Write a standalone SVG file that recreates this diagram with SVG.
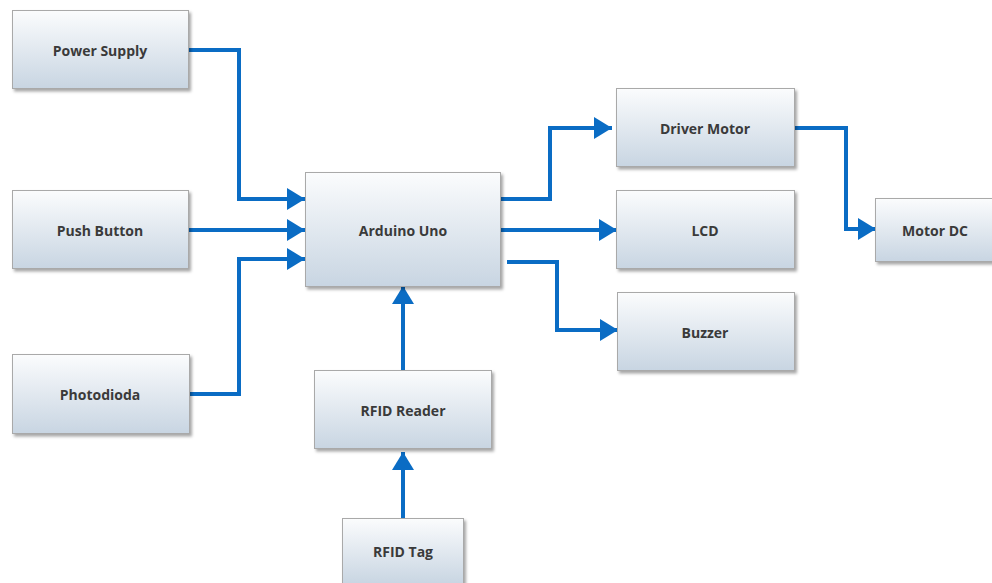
<svg xmlns="http://www.w3.org/2000/svg" width="992" height="583" viewBox="0 0 992 583">
<defs>
<linearGradient id="g" x1="0" y1="0" x2="0" y2="1">
<stop offset="0" stop-color="#fbfcfd"/>
<stop offset="1" stop-color="#c8d5e2"/>
</linearGradient>
<filter id="sh" x="-10%" y="-10%" width="125%" height="130%">
<feDropShadow dx="2" dy="2.5" stdDeviation="1.5" flood-color="#000" flood-opacity="0.35"/>
</filter>
<marker id="ah" markerUnits="userSpaceOnUse" markerWidth="20" markerHeight="22" refX="18" refY="11" orient="auto">
<path d="M0,0 L18,11 L0,22 Z" fill="#0a6cc4"/>
</marker>
<style>
.box{fill:url(#g);stroke:#a9a9a9;stroke-width:1;filter:url(#sh)}
.lbl{font-family:"Open Sans","Liberation Sans",sans-serif;font-weight:bold;font-size:14px;fill:#3a3a3a;text-anchor:middle;dominant-baseline:central}
.c{fill:none;stroke:#0a6cc4;stroke-width:4;marker-end:url(#ah)}
</style>
</defs>
<rect width="992" height="583" fill="#ffffff"/>
<g id="connectors">
<polyline class="c" points="189,50 239,50 239,199 305,199"/>
<polyline class="c" points="189,230 305,230"/>
<polyline class="c" points="190,394 239,394 239,259 305,259"/>
<polyline class="c" points="501,199 550,199 550,128 612,128"/>
<polyline class="c" points="501,230 617,230"/>
<polyline class="c" points="507,262 557,262 557,330 618,330"/>
<polyline class="c" points="795,128 846,128 846,229 876,229"/>
<polyline class="c" points="403,370 403,286"/>
<polyline class="c" points="403,518 403,452"/>
</g>
<g id="power-supply"><rect class="box" x="12.5" y="10.5" width="176" height="78"/><text class="lbl" x="100" y="50">Power Supply</text></g>
<g id="push-button"><rect class="box" x="12.5" y="190.5" width="176" height="78"/><text class="lbl" x="100" y="230">Push Button</text></g>
<g id="photodioda"><rect class="box" x="12.5" y="354.5" width="177" height="79"/><text class="lbl" x="100" y="394">Photodioda</text></g>
<g id="arduino-uno"><rect class="box" x="305.5" y="172.5" width="195" height="114"/><text class="lbl" x="403" y="230">Arduino Uno</text></g>
<g id="rfid-reader"><rect class="box" x="314.5" y="370.5" width="177" height="78"/><text class="lbl" x="403" y="410">RFID Reader</text></g>
<g id="rfid-tag"><rect class="box" x="342.5" y="518.5" width="121" height="66"/><text class="lbl" x="403" y="551">RFID Tag</text></g>
<g id="driver-motor"><rect class="box" x="616.5" y="88.5" width="178" height="78"/><text class="lbl" x="705" y="128">Driver Motor</text></g>
<g id="lcd"><rect class="box" x="616.5" y="190.5" width="178" height="78"/><text class="lbl" x="705" y="230">LCD</text></g>
<g id="buzzer"><rect class="box" x="617.5" y="292.5" width="177" height="78"/><text class="lbl" x="705" y="332">Buzzer</text></g>
<g id="motor-dc"><rect class="box" x="875.5" y="198.5" width="120" height="63"/><text class="lbl" x="935" y="230">Motor DC</text></g>
</svg>
